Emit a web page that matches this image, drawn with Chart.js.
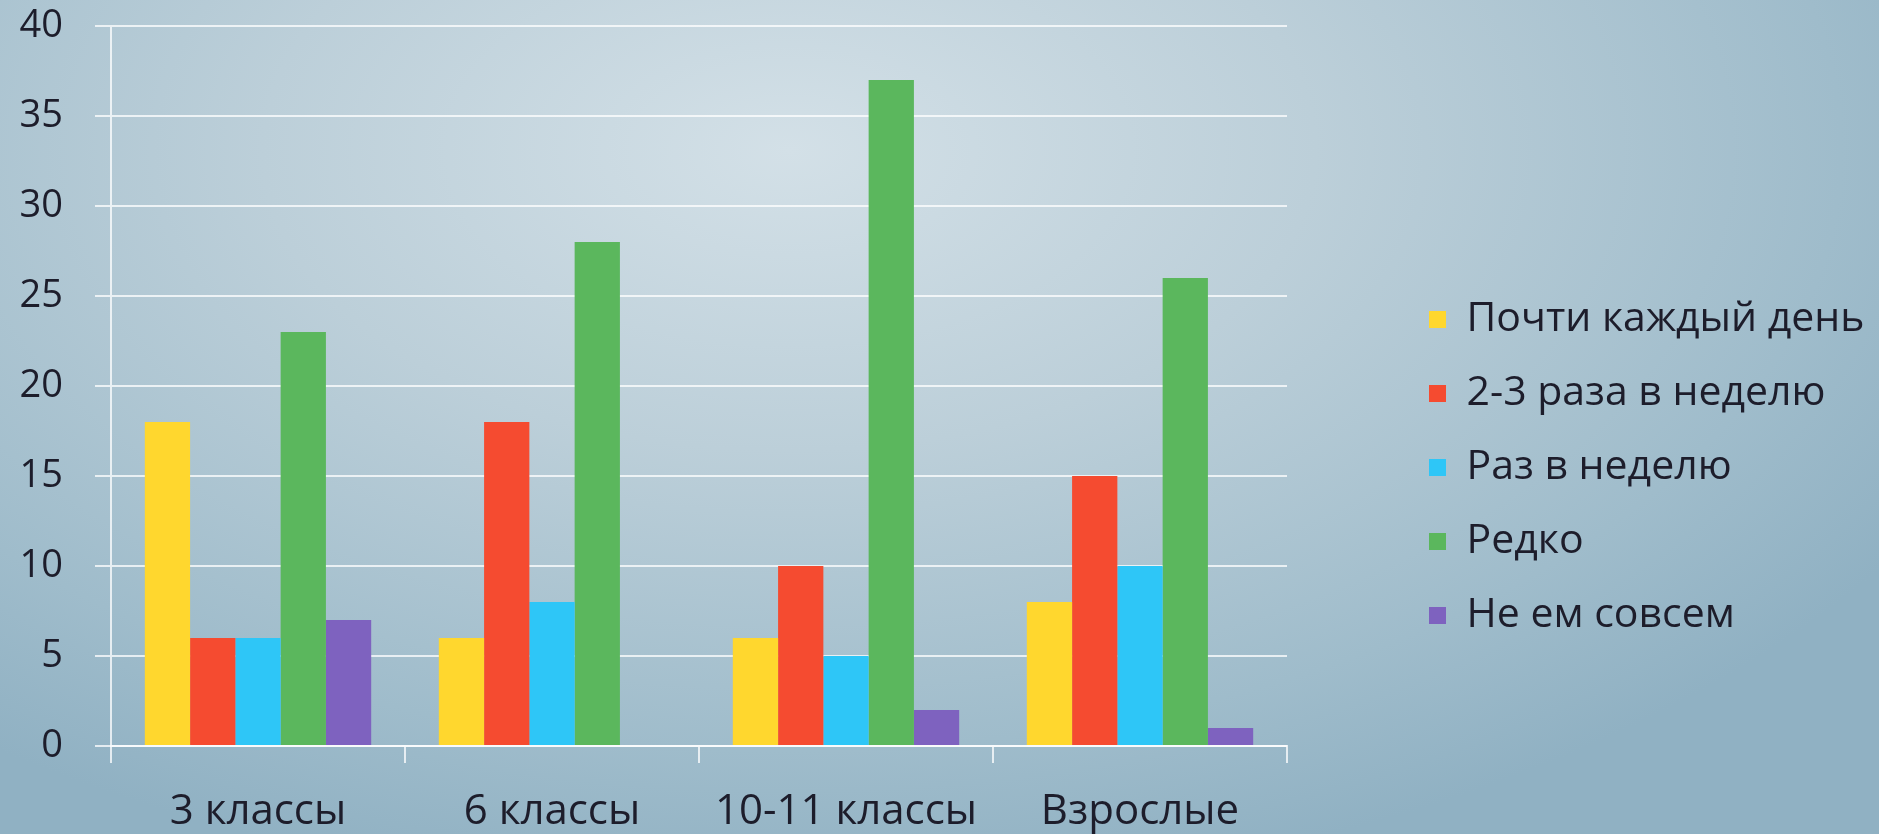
<!DOCTYPE html>
<html>
<head>
<meta charset="utf-8">
<script src="https://cdn.jsdelivr.net/npm/chart.js@4"></script>
<style>
  html, body { margin: 0; padding: 0; }
  body {
    width: 1879px;
    height: 834px;
    background: radial-gradient(ellipse 70% 90% at 42% 18%, #d3e0e7 0%, #bccfd9 40%, #9fbccb 80%, #90b1c3 100%);
  }
  #wrap { width: 1879px; height: 834px; }
</style>
</head>
<body>
<div id="wrap"><canvas id="chart"></canvas></div>
<script>
const categories = ["3 классы", "6 классы", "10-11 классы", "Взрослые"]
const seriesNames = ["Почти каждый день", "2-3 раза в неделю", "Раз в неделю", "Редко", "Не ем совсем"]

const almostDaily = [18, 6, 6, 8]
const twoThreeWeek = [6, 18, 10, 15]
const onceWeek = [6, 8, 5, 10]
const rarely = [23, 28, 37, 26]
const never = [7, 0, 2, 1]

const yTicks = [0, 5, 10, 15, 20, 25, 30, 35, 40]

const colors = ["#ffd72e", "#f54b30", "#2ec6f7", "#5bb75d", "#7e62bf"]
const gridColor = "rgba(255, 255, 255, 0.75)"
const textColor = "#1d1d2b"
const fontFamily = "'Open Sans', sans-serif"

// puts the legend where the slide has it, right of the plot
const legendPlace = {
  id: "legendPlace",
  beforeLayout(chart) {
    const legend = chart.legend
    if (legend && !legend._patched) {
      const fit = legend.fit
      legend.fit = function () {
        fit.call(this)
        this.width = 592
      }
      legend._patched = true
    }
  },
  afterLayout(chart) {
    const legend = chart.legend
    legend.left = 1396
    legend.right = legend.left + legend.width
    legend.top = 266
  },
}

const values = [almostDaily, twoThreeWeek, onceWeek, rarely, never]

const data = {
  labels: categories,
  datasets: seriesNames.map((name, i) => ({
    label: name,
    data: values[i],
    backgroundColor: colors[i],
    borderWidth: 0,
    categoryPercentage: 0.77,
    barPercentage: 1,
  })),
}

const config = {
  type: "bar",
  data: data,
  options: {
    responsive: true,
    maintainAspectRatio: false,
    animation: false,
    layout: {
      padding: 0,
    },
    plugins: {
      legend: {
        position: "right",
        align: "start",
        labels: {
          boxWidth: 17,
          boxHeight: 17,
          padding: 33,
          color: textColor,
          font: { family: fontFamily, size: 41 },
        },
      },
      tooltip: { enabled: false },
    },
    scales: {
      x: {
        afterFit(scale) {
          scale.height = 88
        },
        grid: {
          drawOnChartArea: false,
          drawTicks: true,
          tickLength: 17,
          color: gridColor,
          lineWidth: 2,
        },
        border: { color: gridColor, width: 2 },
        ticks: {
          color: textColor,
          padding: 24,
          font: { family: fontFamily, size: 42 },
        },
      },
      y: {
        min: 0,
        max: 40,
        afterFit(scale) {
          scale.width = 111
          scale.paddingTop = 26
          scale.paddingBottom = 0
        },
        afterBuildTicks(scale) {
          scale.ticks = yTicks.map((v) => ({ value: v }))
        },
        grid: {
          color: gridColor,
          lineWidth: 2,
          tickLength: 16,
        },
        border: { color: gridColor, width: 2 },
        ticks: {
          color: textColor,
          padding: 32,
          font: { family: fontFamily, size: 38 },
        },
      },
    },
  },
  plugins: [legendPlace],
}

new Chart(document.getElementById("chart"), config)
</script>
</body>
</html>
